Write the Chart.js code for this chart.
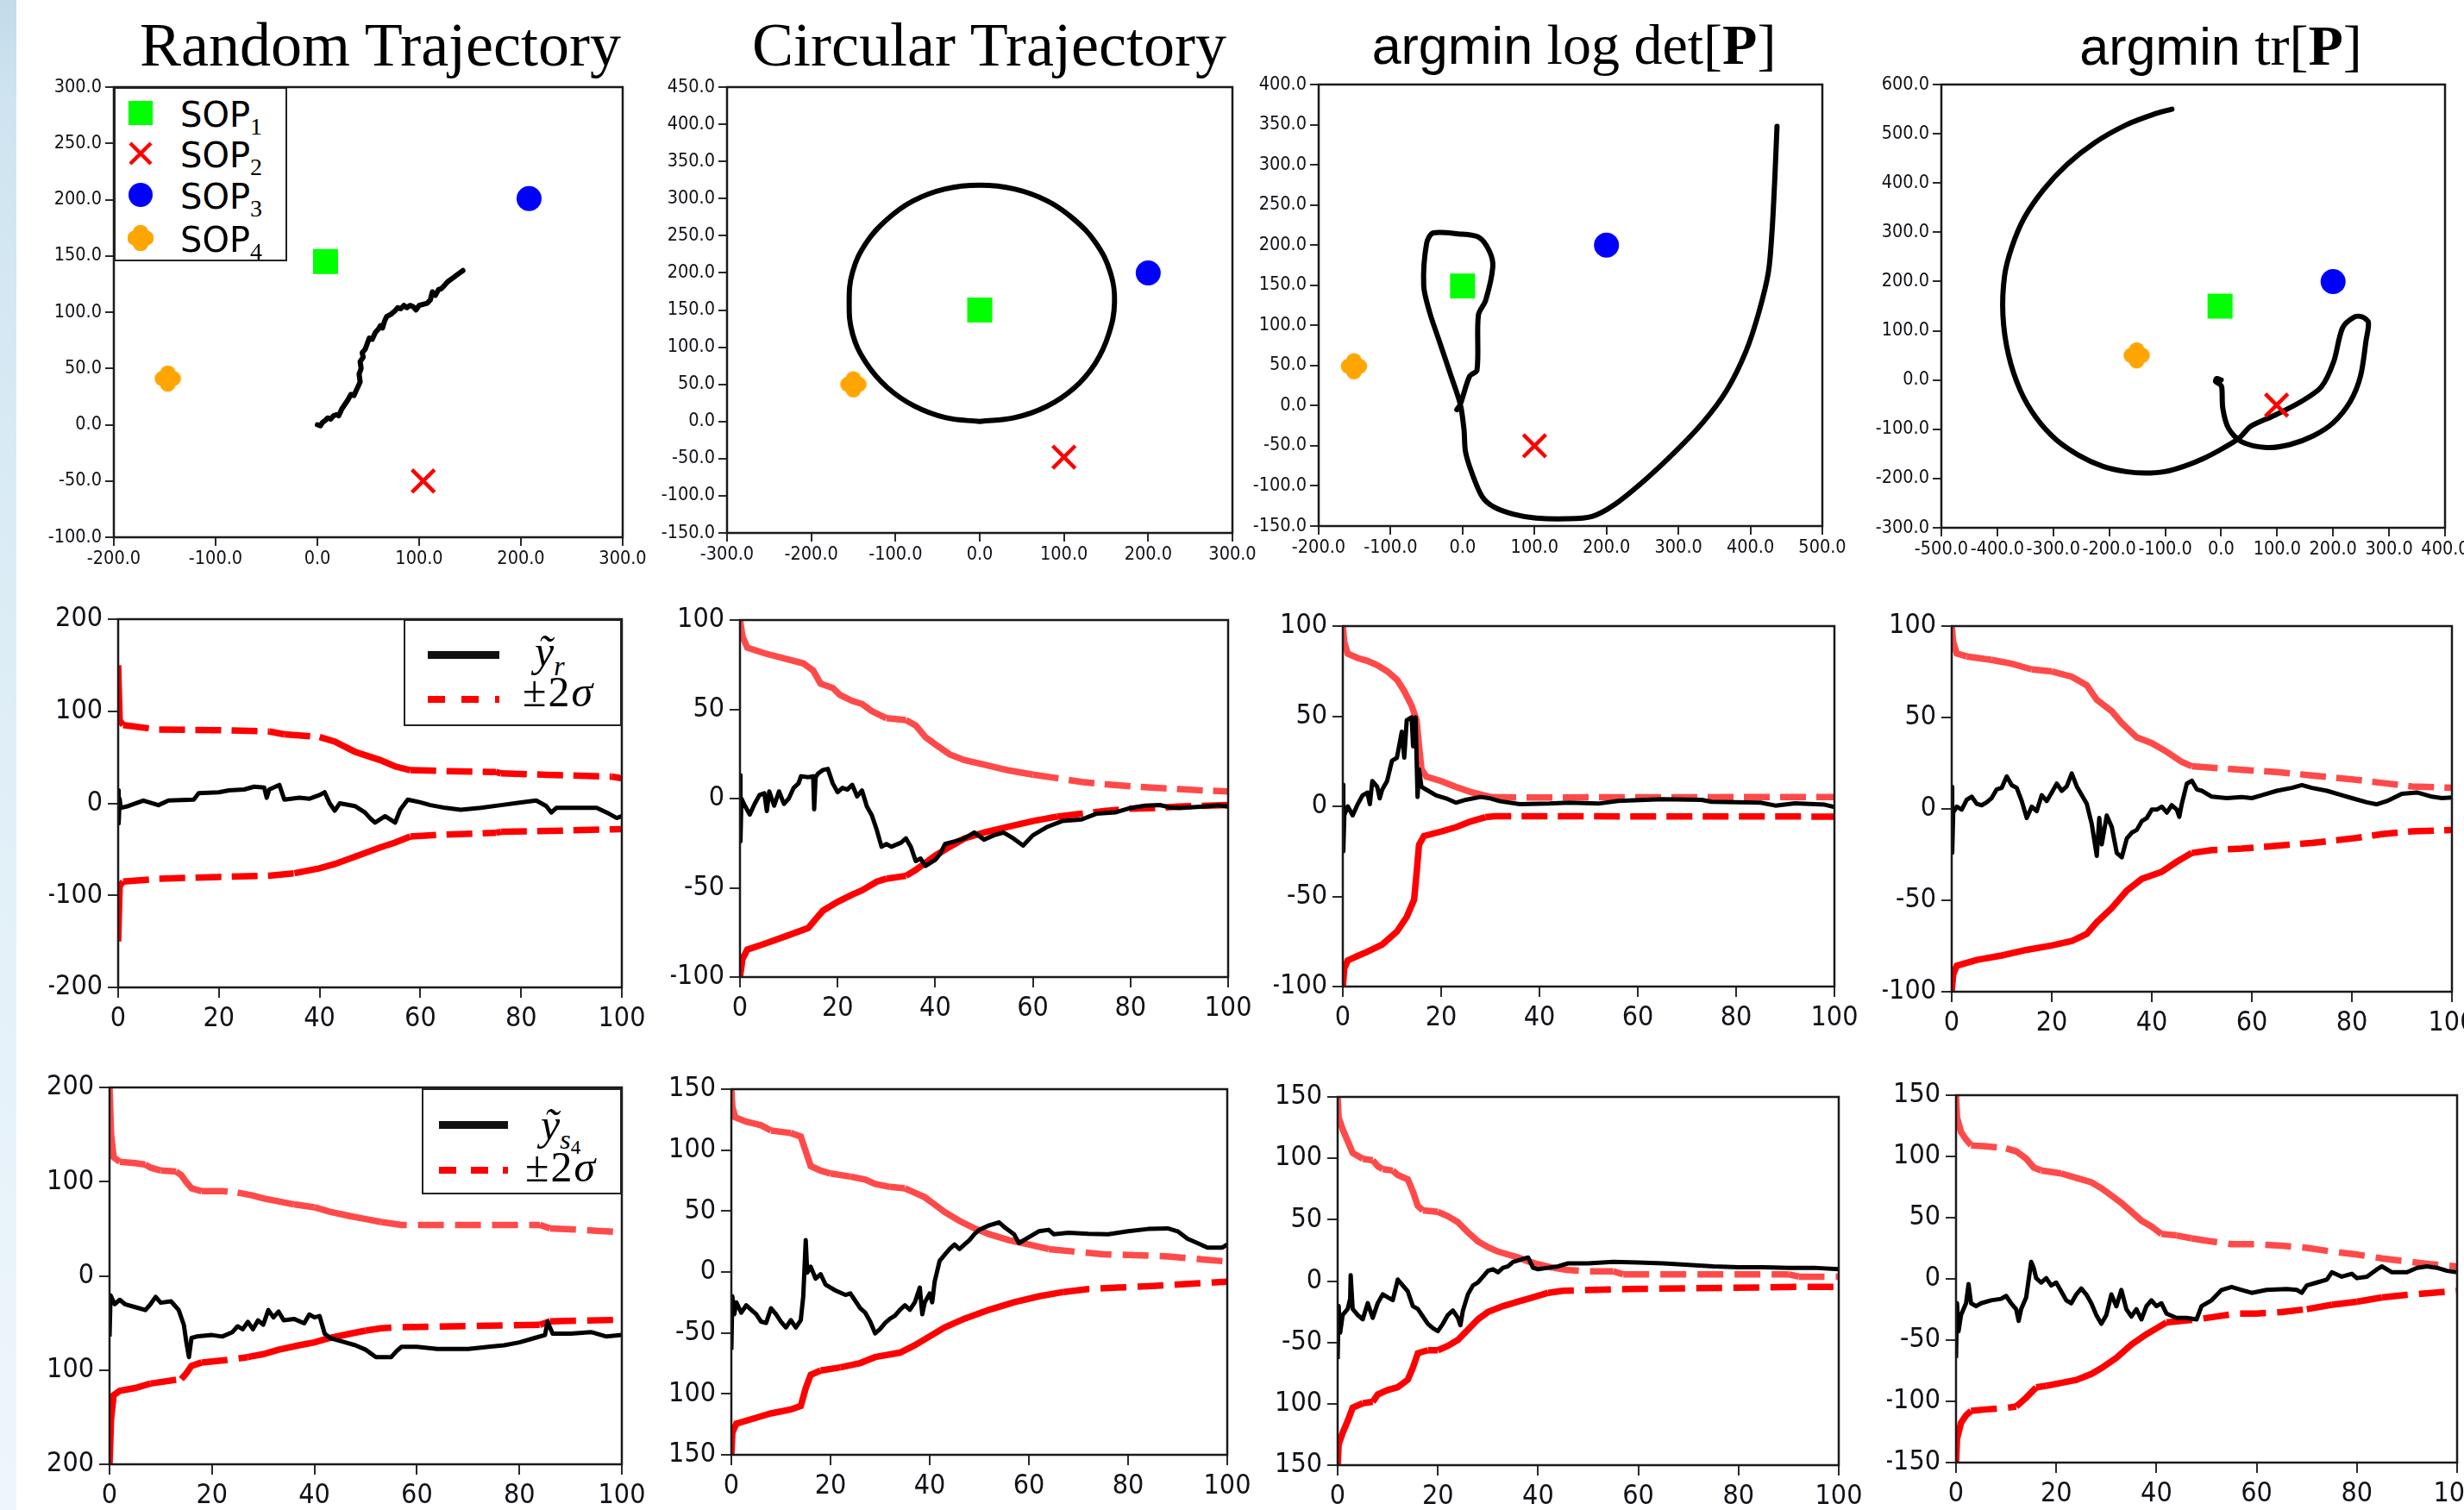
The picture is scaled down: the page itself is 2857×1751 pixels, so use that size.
<!DOCTYPE html>
<html><head><meta charset="utf-8">
<script src="https://cdn.jsdelivr.net/npm/chart.js@4.4.1/dist/chart.umd.min.js"></script>
<style>
html,body{margin:0;padding:0;background:#fff;}
body{width:2857px;height:1751px;position:relative;overflow:hidden;}
.strip{position:absolute;left:0;top:0;width:19px;height:1751px;
  background:linear-gradient(#c3dcea 0px,#cfe4f0 120px,#d8eaf4 500px,#e2f0f8 1000px,#eef6fb 1751px);}
canvas.pc{position:absolute;}
.title{position:absolute;width:800px;text-align:center;white-space:nowrap;line-height:1;color:#000;z-index:5;
  font-family:'Liberation Serif','DejaVu Serif',serif;}
.sans{font-family:'Liberation Sans','DejaVu Sans',sans-serif;}
.lg{position:absolute;box-sizing:border-box;border:2px solid #222;background:#fff;z-index:5;}
.lg .it{position:absolute;line-height:1;white-space:nowrap;}
.sop{font-family:'DejaVu Sans',sans-serif;font-size:40px;color:#000;}
.sop sub{font-family:'Liberation Serif',serif;font-size:28px;vertical-align:-9px;}
.math{font-family:'Liberation Serif','DejaVu Serif',serif;font-size:50px;color:#000;}
.math sub{font-size:32px;vertical-align:-11px;}
.math sub sub{font-size:23px;vertical-align:-6px;}
</style></head>
<body>
<div class="strip"></div>
<script>
// ---------------- DATA ----------------
const sopNames = ['SOP\u2081','SOP\u2082','SOP\u2083','SOP\u2084'];
// SOP positions (x, y)
const sopRandomX = [8, 104, 208, -147];
const sopRandomY = [145, -50, 201, 41];
const sopCircX = [0, 100, 200, -150];
const sopCircY = [150, -48, 200, 50];
const sopDetX = [0, 100, 200, -151];
const sopDetY = [149, -50, 200, 49];
const sopTrX = [-2, 99, 200, -151];
const sopTrY = [150, -51, 200, 50];

// receiver trajectories [x, y]
const randTraj = [[0,0],[3,-1],[5,2],[8,4],[10,6],[13,5],[16,8],[19,9],[21,8],[24,14],[27,18],[30,22],[33,27],[36,26],[38,30],[40,34],[42,38],[41,45],[43,50],[42,56],[45,60],[44,64],[47,67],[49,72],[51,77],[54,76],[57,82],[60,85],[62,88],[64,86],[66,92],[68,96],[72,98],[76,101],[79,104],[82,103],[85,106],[88,104],[91,106],[94,105],[97,102],[100,106],[104,107],[108,108],[111,111],[113,118],[116,115],[119,120],[122,121],[125,124],[128,127],[131,129],[134,131],[137,133],[140,135],[143,137]];
const circTraj = [[0,0],[41,5],[79,20],[112,45],[137,78],[153,117],[160,160],[155,201],[138,240],[112,272],[80,297],[41,313],[0,318],[-41,313],[-79,297],[-110,272],[-135,240],[-151,201],[-155,160],[-151,118],[-135,79],[-110,46],[-78,21],[-40,5],[0,0]];
const detTraj = [[-8,-5],[-3,2],[10,37],[20,44],[22,113],[32,131],[42,173],[37,193],[22,210],[-6,214],[-41,215],[-50,202],[-54,149],[-46,117],[-33,82],[-16,37],[-3,1],[2,-30],[4,-57],[13,-84],[27,-113],[43,-126],[70,-135],[102,-140],[145,-141],[180,-138],[210,-124],[253,-93],[296,-57],[334,-21],[367,19],[394,68],[412,117],[425,166],[430,216],[433,265],[435,305],[437,348]];
const trTraj = [[0,0],[-8,3],[-10,-3],[-3,-8],[1,-14],[3,-58],[13,-98],[36,-125],[81,-137],[123,-131],[165,-113],[200,-87],[231,-43],[249,8],[259,81],[263,117],[252,128],[238,128],[217,106],[201,37],[179,-14],[144,-43],[95,-72],[53,-94],[32,-118],[4,-138],[-31,-159],[-66,-175],[-101,-186],[-136,-189],[-170,-186],[-212,-175],[-254,-153],[-296,-120],[-331,-76],[-359,-21],[-380,51],[-390,132],[-387,212],[-374,270],[-352,329],[-317,387],[-275,438],[-226,482],[-170,518],[-122,539],[-88,550]];

// map-panel ticks and labels
const m1XTicks = [-200,-100,0,100,200,300];
const m1XLabels = ['-200.0','-100.0','0.0','100.0','200.0','300.0'];
const m1YTicks = [-100,-50,0,50,100,150,200,250,300];
const m1YLabels = ['-100.0','-50.0','0.0','50.0','100.0','150.0','200.0','250.0','300.0'];
const m2XTicks = [-300,-200,-100,0,100,200,300];
const m2XLabels = ['-300.0','-200.0','-100.0','0.0','100.0','200.0','300.0'];
const m2YTicks = [-150,-100,-50,0,50,100,150,200,250,300,350,400,450];
const m2YLabels = ['-150.0','-100.0','-50.0','0.0','50.0','100.0','150.0','200.0','250.0','300.0','350.0','400.0','450.0'];
const m3XTicks = [-200,-100,0,100,200,300,400,500];
const m3XLabels = ['-200.0','-100.0','0.0','100.0','200.0','300.0','400.0','500.0'];
const m3YTicks = [-150,-100,-50,0,50,100,150,200,250,300,350,400];
const m3YLabels = ['-150.0','-100.0','-50.0','0.0','50.0','100.0','150.0','200.0','250.0','300.0','350.0','400.0'];
const m4XTicks = [-500,-400,-300,-200,-100,0,100,200,300,400];
const m4XLabels = ['-500.0','-400.0','-300.0','-200.0','-100.0','0.0','100.0','200.0','300.0','400.0'];
const m4YTicks = [-300,-200,-100,0,100,200,300,400,500,600];
const m4YLabels = ['-300.0','-200.0','-100.0','0.0','100.0','200.0','300.0','400.0','500.0','600.0'];

// time axis
const tTicks = [0,20,40,60,80,100];
const tLabels = ['0','20','40','60','80','100'];
const e200Ticks = [-200,-100,0,100,200];
const e200Labels = ['-200','-100','0','100','200'];
const e100Ticks = [-100,-50,0,50,100];
const e100Labels = ['-100','-50','0','50','100'];
const s200Ticks = [-200,-100,0,100,200];
const s200Labels = ['200','100','0','100','200'];
const s150Ticks = [-150,-100,-50,0,50,100,150];
const s150LabelsCut = ['150','100','-50','0','50','100','150'];
const s150Labels = ['-150','-100','-50','0','50','100','150'];

// row 2: receiver error y_r and +-2 sigma bounds  [t, value]
const yrC1 = [[0,14],[0.1,-22],[0.3,5],[0.5,-5],[2,-3],[5,3],[8,-2],[10,3],[15,4],[16,11],[20,12],[22,14],[25,15],[27,18],[29,17],[29.5,6],[30,15],[32,20],[33,4],[36,6],[38,5],[40,9],[41,12],[42,0],[43,-8],[44,0],[47,-3],[49,-10],[50,-16],[51,-21],[53,-14],[55,-21],[56,-7],[57.5,4],[60,1],[62,-2],[65,-5],[68,-7],[72,-5],[76,-2],[80,1],[83,3],[85,-3],[86,-10],[87,-5],[95,-5],[97,-10],[99,-16],[100,-14]];
const yrUpC1 = [[0,150],[0.3,90],[1,85],[8,80],[20,79.5],[30,78],[33,75],[40,72],[43,67],[47,56],[52,47],[55,40],[58,36],[65,35],[75,34],[76,32.5],[85,31],[98,29],[100,27]];
const yrLoC1 = [[0,-150],[0.3,-90],[1,-85],[8,-82],[20,-80],[30,-78.6],[35,-76],[40,-70.7],[43,-66],[47,-58],[52,-48],[55,-42.6],[58,-36],[65,-34],[75,-32],[76,-31],[86,-30],[100,-28]];

const yrC2 = [[0,13],[0.1,-24],[0.3,0],[1,-4],[2,-9],[3,-3],[4,2],[5,3],[5.5,-7],[6,4],[7,-4],[8,4],[9,-3],[10,0],[11,6],[12,8.5],[12.5,12.5],[14,12],[15,12.5],[15.2,-6],[15.5,12],[16,14],[17,16],[18,16.6],[19,8.5],[20,3.6],[21,6],[22,5],[23,7.7],[24,1.2],[25,4.5],[26,-4.5],[27,-9.3],[28,-17.4],[29,-27],[30,-25.5],[31,-27],[33,-24.7],[34,-22.3],[35,-27],[36,-35],[37,-33.6],[38,-37.7],[39,-36],[40,-34.4],[41,-31],[42,-25.5],[44,-24],[46,-22.3],[48,-19],[50,-23],[52,-20.6],[54,-19],[56,-22.3],[58,-26.3],[60,-20.6],[63,-15.8],[66,-12.6],[70,-11.7],[73,-8.5],[77,-7.7],[80,-5.3],[83,-4],[86,-3.6],[88,-4.9],[90,-5.3],[95,-4.5],[98,-3.8],[100,-4.5]];
const yrUpC2 = [[0,100],[0.5,91],[1.5,84.5],[5,81.4],[10,77.8],[13,75.7],[15,71.7],[16.5,64.4],[19,62],[20.5,58],[23,54.7],[25,53],[27,49],[30,45],[34,44],[36,41],[38,34.4],[40,30.4],[43,24.7],[46,21.5],[50,19],[55,15.8],[60,13.4],[65,11.4],[70,9.3],[75,8],[80,6.9],[85,6],[90,5.3],[95,4.5],[100,4]];
const yrLoC2 = [[0,-100],[0.5,-90],[1.5,-84.6],[5,-81.4],[10,-76.5],[14,-72.5],[15.5,-67.6],[17,-62.8],[20,-57.9],[23,-53.8],[25,-51.4],[28,-46.6],[30,-44.9],[34,-43.3],[36,-40],[38,-36],[40,-32],[43,-27],[46,-22.3],[50,-19],[55,-15.8],[60,-12.6],[65,-10.1],[70,-8.5],[75,-6.9],[80,-5.7],[85,-5.3],[90,-4.5],[100,-3.6]];

const yrC3 = [[0,12],[0.1,-25],[0.3,-5],[1,0],[2,-5],[3,1],[4,6],[5,7.6],[5.5,1.2],[6,14],[7,10.8],[7.5,4.4],[8,9.2],[9,14],[10,25.3],[11,26.9],[12,41.4],[12.5,27],[13,47.8],[14,49.4],[14.3,33.3],[14.8,49.4],[15.2,5.2],[15.5,20.5],[16,10.8],[17,9.2],[19,6],[21,4.4],[23,2],[25,3.6],[28,5.2],[30,4.4],[32,2.8],[36,1.2],[42,1.5],[46,2],[52,1.5],[56,3],[65,4],[73,3.6],[75,2.5],[85,2],[88,0.4],[92,1.7],[98,0.9],[100,-0.4]];
const yrUpC3 = [[0,100],[0.3,91],[1,84.7],[3,82.3],[5,80.7],[7,78.3],[9,75],[11,70.3],[12.5,63.9],[14,55.8],[15,47.8],[15.5,33.3],[16,20.5],[17,16.5],[20,14],[23,10.8],[26,8],[30,5.2],[35,4.9],[100,5.2]];
const yrLoC3 = [[0,-100],[0.3,-90],[1,-85.5],[3,-83],[5,-80.7],[8,-76.7],[11,-69.5],[13,-61.4],[14.5,-51.8],[15,-37.3],[15.5,-21.3],[16.5,-16.5],[20,-14],[23,-11.6],[26,-8.4],[29,-6],[31,-5.5],[100,-5.7]];

const yrC4 = [[0,12],[0.1,-24],[0.3,-2],[1,1.2],[2,-0.4],[3,5],[4,6.7],[5,2.8],[6,2],[7,3.6],[8,6],[9,10.7],[10,11.5],[11,17.8],[12,13],[13,11.5],[14,4.3],[15,-5],[16,1.2],[17,-1.2],[18,7.5],[19,4.3],[20,9],[21,13.8],[22,9.9],[23,12.3],[24,19.4],[25,12.3],[26,7.5],[27,2.8],[28,-8.3],[29,-25.7],[29.5,-5],[30,-19.4],[31,-3.6],[32,-9.9],[33,-24.1],[34,-26.5],[35,-16.2],[36,-13],[37,-11.5],[38,-6.7],[39,-5],[40,-0.4],[41,-0.4],[42,1.2],[43,-2],[44,2],[45,-0.4],[45.5,-4.3],[46,2.8],[47,13.8],[48,15.4],[49,10.7],[50,9.9],[52,6.7],[55,5.9],[58,6.5],[60,5.9],[62,7.5],[65,9.9],[68,11.5],[70,13],[72,11.5],[75,9.9],[78,7.5],[80,5.9],[83,3.6],[85,2.5],[87,4.3],[90,8.3],[93,9],[96,6.7],[98,5.9],[100,6.3]];
const yrUpC4 = [[0,100],[0.3,91.3],[1,85],[3,83.4],[8,81.5],[12,79.4],[16,76.3],[20,75.2],[24,72.3],[27,67.6],[29,59.7],[32,53.4],[34,47],[37,39.1],[40,36],[43,31.2],[46,25.7],[48,23.3],[52,22.5],[60,21],[65,20.2],[72,18.3],[80,16.2],[86,14.2],[92,12.3],[100,11.5]];
const yrLoC4 = [[0,-100],[0.3,-90.5],[1,-85.8],[5,-82.6],[10,-80.2],[15,-77.1],[20,-74.7],[24,-72.3],[27,-68.4],[29,-62],[32,-54.2],[35,-44.7],[38,-38.3],[42,-34.4],[45,-28.9],[48,-24.1],[52,-22.5],[58,-21.7],[65,-20.2],[72,-18.6],[80,-16.2],[86,-13.8],[92,-12.3],[100,-11.5]];

// row 3: SOP4 error y_s4 and +-2 sigma bounds [t, value]
const ysC1 = [[0,-64.4],[0.2,-20.7],[1,-30],[2,-25.4],[3,-30],[5,-33.2],[7,-36.3],[8,-30],[9,-22.3],[10,-28.5],[12,-27],[13.5,-36.3],[14.5,-51.9],[15,-70.6],[15.5,-86.2],[16,-65.9],[17,-64.4],[20,-62.8],[22,-64.4],[24,-59.7],[25,-53.5],[26,-56.6],[27,-48.8],[28,-56.6],[29,-47.2],[30,-51.9],[31,-36.3],[32,-44.1],[33,-37.9],[34,-47.2],[36,-45.7],[38,-50.3],[39,-41],[40,-44.1],[41,-42.6],[42,-61.3],[43,-65.9],[45,-69],[48,-73.7],[50,-78.4],[52,-86.2],[55,-86.2],[56,-80],[57,-75.3],[60,-75.3],[64,-77.5],[70,-77.5],[74,-75.3],[77,-73.7],[80,-70.6],[83,-65.9],[85,-62.8],[85.5,-48.8],[86.5,-61.3],[90,-61.3],[94,-59.7],[97,-64.4],[100,-62.8]];
const ysUpC1 = [[0,200],[0.3,150.7],[0.8,125.8],[2,121],[5,119.6],[7,118],[8,114.9],[10,111.8],[13,110.8],[14,107],[15,99.3],[16,93],[18,89.9],[22,89.9],[25,88.4],[28,85.3],[30,82.2],[33,79],[36,75.9],[40,72.8],[43,68.1],[47,63.4],[50,60.3],[53,57.2],[57,54.1],[84,54.1],[86,50.3],[90,49.4],[95,47.9],[100,46.3]];
const ysLoC1 = [[0,-200],[0.3,-151.7],[0.8,-126.7],[2,-122],[5,-119],[8,-114.3],[10,-112.7],[14,-109.6],[15,-103.4],[16,-95.6],[18,-91.9],[23,-89.3],[27,-86.2],[30,-83.1],[33,-78.4],[37,-73.7],[40,-70.6],[43,-65.9],[47,-61.3],[50,-58.1],[53,-55.6],[57,-54.4],[84,-51.9],[86,-48.2],[100,-46.6]];

const ysC2 = [[0,-63.8],[0.2,-20],[0.6,-34.6],[1,-24.9],[2,-33.4],[3,-27.3],[4,-31],[5,-34.6],[6,-40.7],[7,-41.9],[8,-29.8],[9,-34.6],[10,-40.7],[11,-45.5],[12,-39.5],[13,-45.5],[14,-39.5],[14.5,-20],[15,26.1],[15.3,-0.6],[16,4.3],[17,-5.5],[18,-1.8],[19,-10.3],[20,-12.8],[21,-15.2],[23,-18.8],[24,-17.6],[25,-23.7],[26,-29.8],[27,-33.4],[28,-40.7],[29,-50.4],[30,-46.8],[31,-41.9],[32,-38.3],[33,-35.8],[34,-31],[35,-27.3],[36,-31],[37,-24.9],[38,-12.8],[38.5,-34.6],[39,-24.9],[40,-17.6],[40.5,-24.9],[41,-7.9],[42,9.1],[43,14],[44,18.8],[45,22.5],[46,18.8],[47,22.5],[48,26.1],[49,31],[50,34.6],[52,38.3],[54,40.7],[55,37],[57,31],[58,23.7],[60,28.5],[62,33.4],[64,34.6],[65,31],[68,32.2],[72,31.3],[76,31],[80,33.4],[84,35.3],[88,35.8],[90,33.4],[92,27.3],[94,23.7],[96,20],[99,20],[100,22.5]];
const ysUpC2 = [[0,150],[0.2,135.4],[0.8,126.9],[3,123.3],[6,120.4],[8,116],[12,114],[14,111.1],[15,99],[16,86.9],[18,83.2],[20,80.8],[24,78.3],[27,75.9],[29,72.3],[32,69.8],[35,68.6],[37,65],[39,61.3],[41,55.3],[43,49.2],[46,41.9],[49,35.8],[52,31],[56,26.1],[60,22.5],[64,18.8],[70,16.4],[75,14.5],[80,14],[88,12.8],[95,10.3],[100,8.6]];
const ysLoC2 = [[0,-150],[0.2,-131.8],[1,-124.5],[4,-120.8],[8,-116],[12,-112.8],[14,-109.9],[15,-95.3],[16,-84.4],[18,-80.8],[22,-78.3],[26,-74.7],[29,-69.8],[34,-66.2],[37,-60.1],[40,-52.8],[43,-45.5],[47,-38.3],[52,-31],[57,-24.9],[62,-20],[67,-16.4],[72,-14],[78,-12.8],[85,-11.5],[90,-10.3],[95,-9.1],[100,-7.9]];

const ysC3 = [[0,-63.6],[0.2,-20.4],[0.5,-42],[1,-27.6],[2,-22.8],[2.5,-14.4],[2.6,4.8],[3,-22.8],[4,-27.6],[5,-31.2],[6,-18],[7,-30],[8,-18],[9,-10.8],[10,-13.2],[11,-15.6],[12,1.2],[13,-3.6],[14,-8.4],[15,-20.4],[16,-22.8],[17,-28.8],[18,-34.8],[19,-38.4],[20,-40.8],[21,-34.8],[22,-27.6],[23,-24],[24,-30],[24.5,-36],[25,-24],[26,-10.8],[27,-3.6],[28,-1.2],[29,3.6],[30,8.4],[31,9.6],[32,7.2],[33,10.8],[34,12],[35,15.6],[36,16.8],[37,18],[38,19.2],[39,10.8],[40,9.6],[42,10.8],[44,12],[46,14.4],[50,14.4],[55,15.6],[60,15.1],[65,14.4],[70,13.2],[75,12],[80,11.3],[85,11.3],[90,10.8],[95,10.8],[100,9.6]];
const ysUpC3 = [[0,150],[0.2,133.2],[1,123.6],[2,114],[3,104.4],[5,99.6],[7,98.4],[8,93.6],[9,91.2],[11,90],[12,86.4],[14,82.8],[15,73.2],[16,61.2],[17,57.6],[20,56.4],[22,52.8],[24,48],[26,39.6],[28,32.4],[30,27.6],[32,24],[34,21.6],[36,19.2],[38,16.1],[40,13.7],[43,10.8],[46,8.9],[50,7.9],[55,7.9],[57,5.5],[90,5.5],[92,3.6],[100,3.6]];
const ysLoC3 = [[0,-150],[0.2,-133.2],[1,-123.6],[2,-114],[3,-103.2],[5,-99.6],[7,-98.4],[8,-92.4],[10,-88.8],[12,-86.4],[14,-80.4],[15,-70.8],[16,-58.8],[18,-56.4],[20,-56.4],[22,-52.8],[24,-48],[26,-39.6],[28,-31.2],[30,-25.2],[33,-20.4],[36,-16.8],[39,-13.2],[42,-9.6],[45,-7.9],[58,-6.5],[92,-4.8],[100,-4.8]];

const ysC4 = [[0,-64.5],[0.2,-19.9],[0.5,-42.8],[1,-29.5],[1.5,-24.7],[2,-19.9],[2.5,-4.2],[3,-19.9],[4,-22.3],[5,-19.9],[7,-17.5],[9,-16.3],[10,-13.9],[11,-19.9],[12,-24.7],[12.5,-34.3],[13,-24.7],[14,-15.1],[14.5,-0.6],[15,13.9],[15.5,9],[16,0.6],[17,-3],[18,0.6],[19,-5.4],[20,-3],[21,-10.2],[22,-17.5],[23,-19.9],[24,-12.7],[25,-7.8],[26,-12.7],[27,-19.9],[28,-29.5],[29,-36.7],[30,-29.5],[31,-12.7],[32,-22.3],[33,-9],[34,-24.7],[35,-30.7],[36,-24.7],[37,-33.1],[38,-22.3],[39,-17.5],[40,-22.3],[41,-19.9],[42,-28.3],[44,-31.9],[46,-31.9],[48,-33.1],[49,-22.3],[51,-17.5],[53,-9],[55,-6.6],[57,-9],[59,-11.4],[62,-9],[66,-8.3],[68,-9],[69,-11.4],[70,-5.4],[72,-3],[74,-0.6],[75,5.4],[77,1.8],[79,4.2],[80,0.6],[82,1.8],[84,7.8],[85,10.2],[87,5.4],[90,5.4],[92,9],[94,10.2],[96,9],[98,6.6],[100,5.4]];
const ysUpC4 = [[0,150],[0.2,131.9],[1,119.9],[2,113.9],[3,109],[6,108.3],[10,106.6],[12,104.2],[14,98.2],[15.5,91],[17,88.6],[21,86.1],[24,82.5],[27,78.9],[29,74.1],[31,68.1],[33,62],[35,54.8],[37,47.6],[39,42.8],[41,36.7],[44,35.5],[47,33.1],[50,31.2],[55,28.3],[60,28.3],[65,27.1],[70,25.4],[75,22.3],[80,19.9],[85,16.7],[90,14.3],[95,11.9],[100,10.2]];
const ysLoC4 = [[0,-150],[0.2,-130.7],[1,-117.5],[2,-111.4],[3,-107.8],[6,-106.6],[10,-105.4],[12,-104.2],[14,-97],[16,-88.6],[18,-87.3],[21,-84.9],[24,-82.5],[27,-77.7],[29,-72.9],[32,-64.5],[35,-53.6],[38,-45.2],[40,-40.4],[42,-35.5],[45,-34.3],[48,-33.1],[52,-30.7],[56,-28.3],[60,-28.3],[65,-27.1],[70,-24.7],[75,-21.1],[80,-18.7],[85,-15.1],[90,-13.1],[95,-11.4],[100,-9.8]];

// text
const titles = ['Random Trajectory','Circular Trajectory'];
const legendYr = ['\u1EF9','r'];
const legendYs = ['\u1EF9','s','4'];
const legendSigma = ['\u00B12','\u03C3'];

// ---------------- RENDERING ----------------
function fontAvailable(f) {
  const c = document.createElement('canvas').getContext('2d');
  const probe = '0123456789.-0123456789 mwMW';
  c.font = `40px '${f}', monospace`; const w1 = c.measureText(probe).width;
  c.font = `40px '${f}', serif`; const w2 = c.measureText(probe).width;
  return Math.abs(w1 - w2) < 0.01;
}
const narrowCands = ['Liberation Sans Narrow','DejaVu Sans Condensed','Roboto Condensed','Noto Sans Condensed','Open Sans Condensed','Arial Narrow','Nimbus Sans Narrow'];
let TICKFAMILY = 'Liberation Sans';
for (const f of narrowCands) { if (fontAvailable(f)) { TICKFAMILY = f; break; } }
const TICKFONT = `'${TICKFAMILY}','Liberation Sans',sans-serif`;
function fitSize(text, targetW, heightSize) {
  const c = document.createElement('canvas').getContext('2d');
  c.font = `20px ${TICKFONT}`;
  const w = c.measureText(text).width;
  return Math.round((0.2 * (20 * targetW / w) + 0.8 * heightSize) * 2) / 2;
}
const MAPTICK = fitSize('300.0', 43.6, 22.5);
const ERRTICK = fitSize('200', 46, 33);

const toXY = arr => arr.map(p => ({x: p[0], y: p[1]}));

const framePlugin = {
  id: 'frame',
  afterDatasetsDraw(chart) {
    const {ctx, chartArea: a} = chart;
    ctx.save(); ctx.strokeStyle = '#1a1a1a'; ctx.lineWidth = 2.5;
    ctx.strokeRect(a.left, a.top, a.right - a.left, a.bottom - a.top);
    ctx.restore();
  }
};

function axis(kind, ticksArr, labelsArr, fontSize, tickLen, size, pad) {
  return {
    type: 'linear',
    min: ticksArr[0], max: ticksArr[ticksArr.length - 1],
    afterBuildTicks: s => { s.ticks = ticksArr.map(v => ({value: v})); },
    afterFit: s => { if (kind === 'x') s.height = size; else s.width = size; },
    grid: {display: true, drawOnChartArea: false, drawTicks: true, tickLength: tickLen, color: '#2a2a2a', lineWidth: 2},
    border: {display: false},
    ticks: {callback: (v, i) => labelsArr[i], font: {family: TICKFONT, size: fontSize}, color: '#111118',
            padding: pad, maxRotation: 0, minRotation: 0, autoSkip: false}
  };
}

function makeChart(box, yW, xH, datasets, xAxis, yAxis) {
  const [L, T, R, B] = box;
  const padT = 26, padR = 46;
  const cv = document.createElement('canvas');
  const W = yW + (R - L) + padR, H = padT + (B - T) + xH;
  cv.width = W; cv.height = H;
  cv.className = 'pc';
  cv.style.left = (L - yW) + 'px'; cv.style.top = (T - padT) + 'px';
  cv.style.width = W + 'px'; cv.style.height = H + 'px';
  document.body.appendChild(cv);
  new Chart(cv.getContext('2d'), {
    type: 'scatter',
    data: {datasets},
    options: {
      responsive: false, animation: false, devicePixelRatio: 1, events: [],
      layout: {padding: {top: padT, right: padR, left: 0, bottom: 0}},
      plugins: {legend: {display: false}, tooltip: {enabled: false}},
      scales: {x: xAxis, y: yAxis}
    },
    plugins: [framePlugin]
  });
}

function flower(r, color) {
  const c = document.createElement('canvas');
  const s = Math.ceil(r * 2 + 4); c.width = s; c.height = s;
  const g = c.getContext('2d'); g.fillStyle = color;
  const m = s / 2, d = r * 0.42, rr = r * 0.6;
  [[d,0],[-d,0],[0,d],[0,-d]].forEach(([dx, dy]) => { g.beginPath(); g.arc(m + dx, m + dy, rr, 0, Math.PI * 2); g.fill(); });
  g.beginPath(); g.arc(m, m, r * 0.78, 0, Math.PI * 2); g.fill();
  return c;
}
const orangeMark = flower(15, '#ffa500');

function sopDatasets(xs, ys) {
  return [
    {label: sopNames[1], data: [{x: xs[1], y: ys[1]}], pointStyle: 'crossRot', pointRadius: 18.5, borderColor: '#ff0000', borderWidth: 4.5, backgroundColor: '#ff0000'},
    {label: sopNames[0], data: [{x: xs[0], y: ys[0]}], pointStyle: 'rect', pointRadius: 20.5, backgroundColor: '#00ff00', borderWidth: 0},
    {label: sopNames[2], data: [{x: xs[2], y: ys[2]}], pointStyle: 'circle', pointRadius: 14.5, backgroundColor: '#0000ff', borderWidth: 0},
    {label: sopNames[3], data: [{x: xs[3], y: ys[3]}], pointStyle: orangeMark, pointRadius: 15, backgroundColor: '#ffa500', borderWidth: 0}
  ];
}
function trajDataset(traj, tension) {
  return {label: 'trajectory', data: toXY(traj), showLine: true, pointRadius: 0, borderColor: '#000', borderWidth: 6,
          borderJoinStyle: 'round', borderCapStyle: 'round', tension: tension};
}
function mapPanel(box, xs, ys, traj, tension, xT, xL, yT, yL) {
  makeChart(box, 80, 46, [...sopDatasets(xs, ys), trajDataset(traj, tension)],
    axis('x', xT, xL, MAPTICK, 10, 46, 3), axis('y', yT, yL, MAPTICK, 10, 80, 4));
}

const dashFn = pattern => c => (Math.abs(c.p1.y - c.p0.y) <= 0.16 * Math.abs(c.p1.x - c.p0.x) ? pattern : undefined);
function errorPanel(box, series, upper, lower, upColor, yT, yL, dash) {
  const ds = [
    {label: 'error', data: toXY(series), showLine: true, borderColor: '#000', borderWidth: 5, pointRadius: 0, borderJoinStyle: 'round', tension: 0},
    {label: '+2sigma', data: toXY(upper), showLine: true, borderColor: upColor, borderWidth: 7.5, pointRadius: 0, borderCapStyle: 'butt', segment: {borderDash: dashFn(dash)}},
    {label: '-2sigma', data: toXY(lower), showLine: true, borderColor: '#ff0000', borderWidth: 7.5, pointRadius: 0, borderCapStyle: 'butt', segment: {borderDash: dashFn(dash)}}
  ];
  makeChart(box, 80, 58, ds, axis('x', tTicks, tLabels, ERRTICK, 12, 58, 5), axis('y', yT, yL, ERRTICK, 12, 80, 6));
}

// row 1
mapPanel([132,101,722,623], sopRandomX, sopRandomY, randTraj, 0, m1XTicks, m1XLabels, m1YTicks, m1YLabels);
mapPanel([843,101,1429,618], sopCircX, sopCircY, circTraj, 0.4, m2XTicks, m2XLabels, m2YTicks, m2YLabels);
mapPanel([1529,98,2113,610], sopDetX, sopDetY, detTraj, 0.3, m3XTicks, m3XLabels, m3YTicks, m3YLabels);
mapPanel([2251,98,2835,612], sopTrX, sopTrY, trTraj, 0.3, m4XTicks, m4XLabels, m4YTicks, m4YLabels);
// row 2
const LIGHTRED = '#ff4a4a';
errorPanel([137,718,721,1145], yrC1, yrUpC1, yrLoC1, '#ff0000', e200Ticks, e200Labels, [30,12]);
errorPanel([858,719,1424,1133], yrC2, yrUpC2, yrLoC2, LIGHTRED, e100Ticks, e100Labels, [30,12]);
errorPanel([1557,726,2127,1144], yrC3, yrUpC3, yrLoC3, LIGHTRED, e100Ticks, e100Labels, [30,12]);
errorPanel([2263,726,2843,1150], yrC4, yrUpC4, yrLoC4, LIGHTRED, e100Ticks, e100Labels, [30,12]);
// row 3
errorPanel([127,1261,721,1698], ysC1, ysUpC1, ysLoC1, LIGHTRED, s200Ticks, s200Labels, [30,13]);
errorPanel([848,1263,1423,1687], ysC2, ysUpC2, ysLoC2, LIGHTRED, s150Ticks, s150LabelsCut, [30,13]);
errorPanel([1551,1272,2132,1699], ysC3, ysUpC3, ysLoC3, LIGHTRED, s150Ticks, s150LabelsCut, [30,13]);
errorPanel([2268,1270,2849,1696], ysC4, ysUpC4, ysLoC4, LIGHTRED, s150Ticks, s150Labels, [30,13]);

// ---------------- TITLES & LEGENDS (HTML text) ----------------
function addHTML(html) { const d = document.createElement('div'); d.innerHTML = html; while (d.firstChild) document.body.appendChild(d.firstChild); }
addHTML(`<div class="title" style="left:41px;top:16px;font-size:72px;">${titles[0]}</div>`);
addHTML(`<div class="title" style="left:747px;top:16px;font-size:72px;">${titles[1]}</div>`);
addHTML(`<div class="title" style="left:1425px;top:19px;font-size:66px;"><span class="sans" style="font-size:61px;">argmin</span> log det[<b>P</b>]</div>`);
addHTML(`<div class="title" style="left:2175px;top:20px;font-size:66px;"><span class="sans" style="font-size:61px;">argmin</span> tr[<b>P</b>]</div>`);

// SOP legend (panel 1)
const sopIcons = [
  `<svg width="30" height="30"><rect x="1" y="1" width="28" height="28" fill="#00ff00"/></svg>`,
  `<svg width="30" height="30"><path d="M3 3 L27 27 M27 3 L3 27" stroke="#ff0000" stroke-width="4.5"/></svg>`,
  `<svg width="30" height="30"><circle cx="15" cy="15" r="14" fill="#0000ff"/></svg>`,
  `<svg width="30" height="30"><g fill="#ffa500"><circle cx="21.3" cy="15" r="9"/><circle cx="8.7" cy="15" r="9"/><circle cx="15" cy="21.3" r="9"/><circle cx="15" cy="8.7" r="9"/><circle cx="15" cy="15" r="11.7"/></g></svg>`
];
const rowsY = [27.5, 75.2, 122.9, 172.6];
let lg = `<div class="lg" style="left:132px;top:101px;width:201px;height:202px;">`;
sopNames.forEach((n, i) => {
  lg += `<div class="it" style="left:14px;top:${rowsY[i]-15}px;">${sopIcons[i]}</div>`;
  lg += `<div class="it sop" style="left:75px;top:${rowsY[i]-18}px;">${n.slice(0,3)}<sub>${i+1}</sub></div>`;
});
lg += `</div>`;
addHTML(lg);

function errLegend(left, top, w, h, lineX, lineW, yBlack, yRed, labX1, base1, labX2, base2, label1, dashOn, dashOff) {
  let s = `<div class="lg" style="left:${left}px;top:${top}px;width:${w}px;height:${h}px;">`;
  s += `<div class="it" style="left:${lineX}px;top:${yBlack-4.5}px;width:${lineW}px;height:9px;background:#111;"></div>`;
  s += `<div class="it" style="left:${lineX}px;top:${yRed-4}px;width:${lineW}px;height:8px;background:repeating-linear-gradient(90deg,#ff0000 0 ${dashOn}px,transparent ${dashOn}px ${dashOn+dashOff}px);"></div>`;
  s += `<div class="it math" style="left:${labX1}px;top:${base1-42}px;">${label1}</div>`;
  s += `<div class="it math" style="left:${labX2}px;top:${base2-42}px;letter-spacing:2px;">${legendSigma[0]}<i>${legendSigma[1]}</i></div>`;
  s += `</div>`;
  addHTML(s);
}
errLegend(468, 718, 253, 124, 26, 83, 39, 91, 150, 52, 136, 99, `<i>${legendYr[0]}</i><sub><i>${legendYr[1]}</i></sub>`, 20, 19);
errLegend(489, 1262, 232, 123, 18, 80, 40, 93, 136, 57, 118, 106, `<i>${legendYs[0]}</i><sub><i>${legendYs[1]}</i><sub>${legendYs[2]}</sub></sub>`, 20, 17);
</script>
</body></html>
